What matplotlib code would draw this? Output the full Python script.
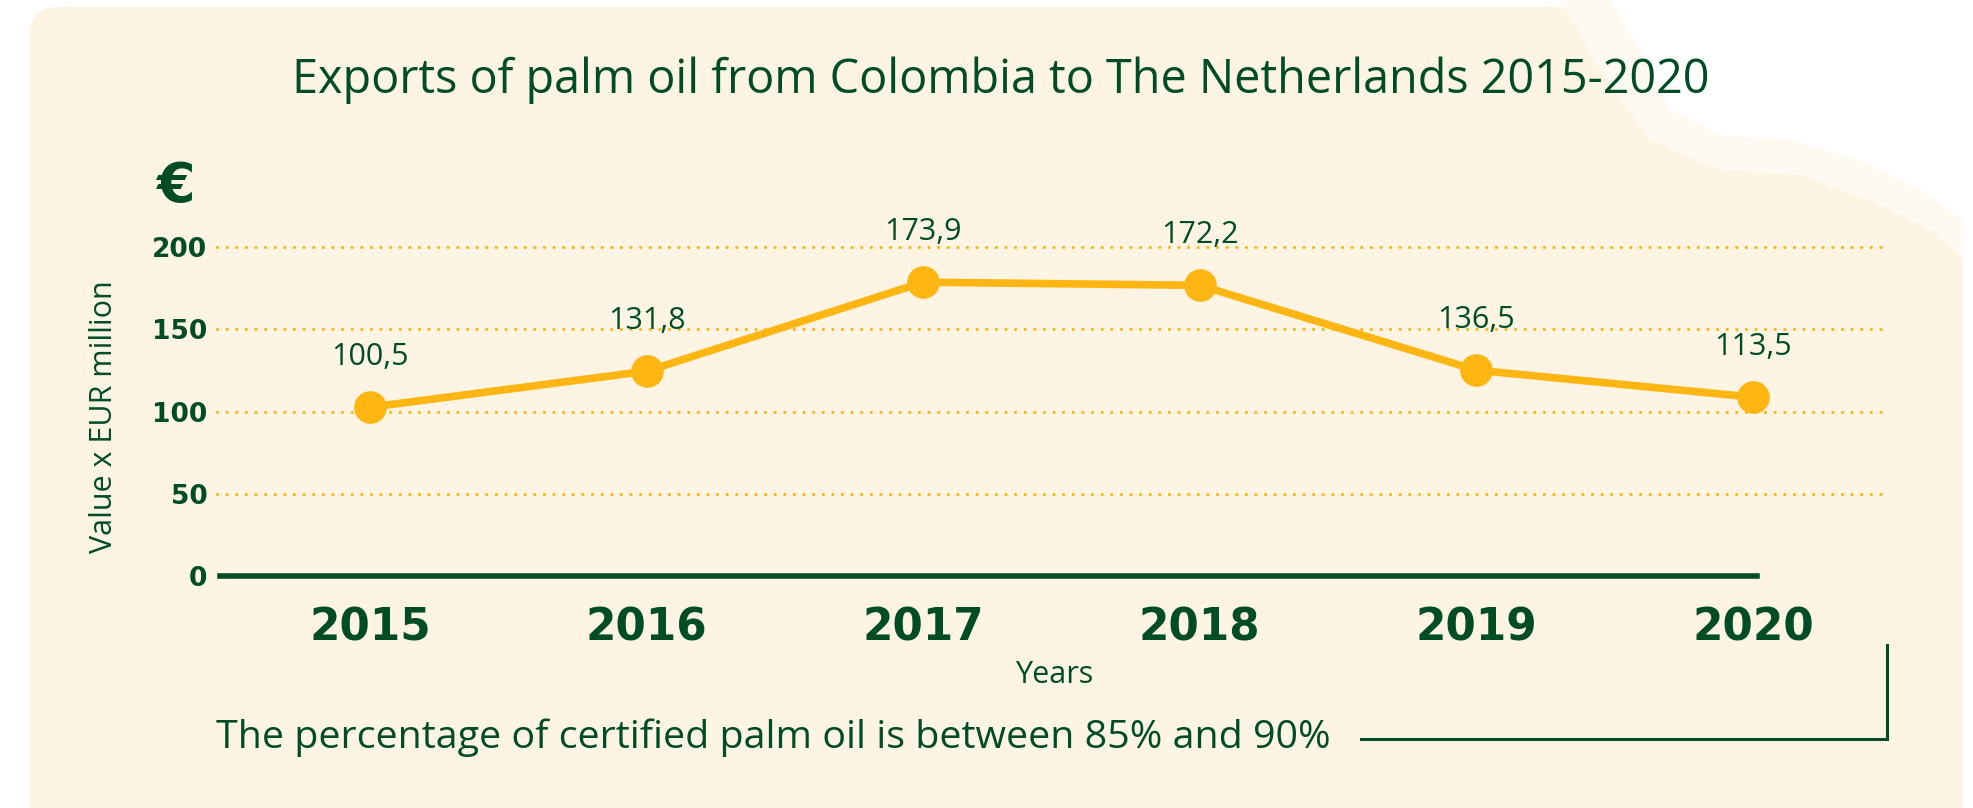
import numpy as np
import matplotlib
matplotlib.use("Agg")
import matplotlib.pyplot as plt
from matplotlib.patches import FancyBboxPatch, Polygon

# data
years = ["2015", "2016", "2017", "2018", "2019", "2020"]
export_values = [100.5, 131.8, 173.9, 172.2, 136.5, 113.5]  # printed labels
drawn_values = [102.6, 124.5, 178.6, 176.7, 125.1, 108.7]  # where the dots sit in the picture
y_ticks = [0, 50, 100, 150, 200]

title = "Exports of palm oil from Colombia to The Netherlands 2015-2020"
y_label = "Value x EUR million"
x_label = "Years"
footnote = "The percentage of certified palm oil is between 85% and 90%"

GREEN = "#004d25"
ORANGE = "#ffb612"
CREAM = "#fdf4e3"
PALE = "#fefaf1"
TEXT_FONT = ["Open Sans", "DejaVu Sans"]

W, H = 1974, 808
fig = plt.figure(figsize=(W / 100, H / 100), dpi=100)
fig.patch.set_facecolor("white")


def px_box(left, top, right, bottom):
    return [left / W, 1 - bottom / H, (right - left) / W, (bottom - top) / H]


def fit_to_width(txt, width_px):
    r = fig.canvas.get_renderer()
    w = txt.get_window_extent(r).width
    txt.set_fontsize(txt.get_fontsize() * width_px / w)


# background canvas in pixel coords
bg = fig.add_axes([0, 0, 1, 1], zorder=0)
bg.set_xlim(0, W)
bg.set_ylim(H, 0)
bg.axis("off")
bg.add_patch(FancyBboxPatch((30, 7), 1933, 900, boxstyle="round,pad=0,rounding_size=28",
                            fc=CREAM, ec="none"))
# faded top-right corner of the texture
bg.add_patch(Polygon([(1560, 0), (W, 0), (W, H), (1963, H), (1963, 260), (1930, 230),
                      (1870, 200), (1800, 175), (1720, 170), (1650, 140), (1600, 70)],
                     fc=PALE, ec="none"))
bg.add_patch(Polygon([(1610, 0), (W, 0), (W, H), (1963, H), (1963, 220), (1920, 190),
                      (1860, 160), (1790, 140), (1720, 135), (1670, 110), (1640, 50)],
                     fc="white", ec="none"))
bg.plot([1361, 1887, 1887], [739, 739, 645], color=GREEN, lw=2.2, solid_joinstyle="miter")

# chart
ax = fig.add_axes(px_box(217, 247, 1888, 576), zorder=1)
ax.patch.set_alpha(0)
x = np.arange(len(years))
step = (1753 - 370) / (len(years) - 1)
ax.set_xlim((217 - 370) / step, (1888 - 370) / step)
ax.set_ylim(0, 200)

for t in y_ticks[1:]:
    ax.axhline(t, color=ORANGE, lw=2.3, ls=(0, (0.01, 3.0)), dash_capstyle="round",
               zorder=1, clip_on=False)

ax.plot(x, drawn_values, color=ORANGE, lw=5.5, marker="o", ms=22.5,
        solid_capstyle="round", zorder=3, clip_on=False)

for xi, yi, v in zip(x, drawn_values, export_values):
    ax.annotate(f"{v:.1f}".replace(".", ","), (xi, yi), xytext=(0, 36),
                textcoords="offset points", ha="center", va="center",
                fontsize=22, color=GREEN, family=TEXT_FONT)

for side in ["top", "right", "left"]:
    ax.spines[side].set_visible(False)
ax.spines["bottom"].set_color(GREEN)
ax.spines["bottom"].set_linewidth(4)
ax.spines["bottom"].set_bounds((220 - 370) / step, (1757 - 370) / step)

ax.set_yticks(y_ticks, [str(t) for t in y_ticks], fontsize=19, fontweight="bold", color=GREEN)
ax.set_xticks(x, years, fontsize=31.5, fontweight="bold", color=GREEN)
ax.tick_params(axis="y", length=0, pad=7)
ax.tick_params(axis="x", length=0, pad=22)

# texts
t = fig.text(1001 / W, 1 - 93 / H, title, ha="center", va="baseline",
             fontsize=36, color=GREEN, family=TEXT_FONT)
fit_to_width(t, 1418)

fig.text(175 / W, 1 - 202 / H, "€", ha="center", va="baseline",
         fontsize=40, fontweight="bold", color=GREEN)

fig.text(104 / W, 1 - 417 / H, y_label, rotation=90, ha="center", va="center",
         fontsize=22, color=GREEN, family=TEXT_FONT)

fig.text(1054 / W, 1 - 683 / H, x_label, ha="center", va="baseline",
         fontsize=22, color=GREEN, family=TEXT_FONT)

t = fig.text(216 / W, 1 - 748 / H, footnote, ha="left", va="baseline",
             fontsize=30, color=GREEN, family=TEXT_FONT)
fit_to_width(t, 1115)

fig.savefig("out.png", dpi=100)
